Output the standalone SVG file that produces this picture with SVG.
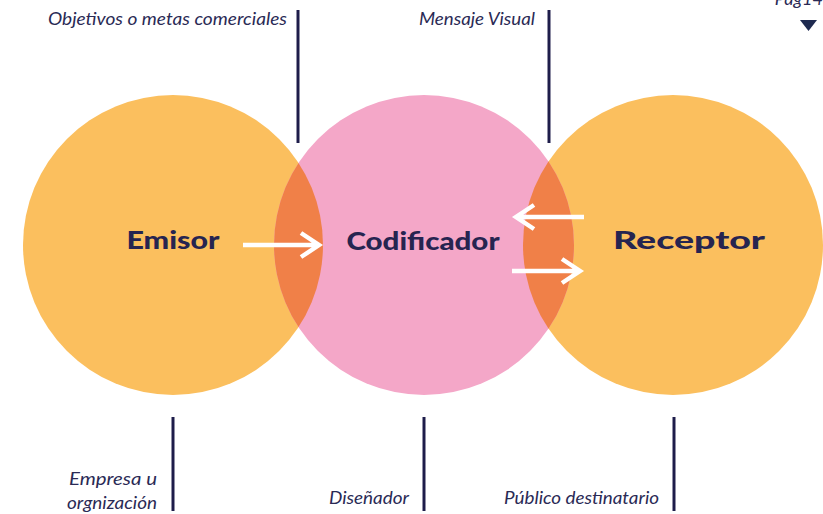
<svg xmlns="http://www.w3.org/2000/svg" width="823" height="514" viewBox="0 0 823 514">
<style>
.lbl{font-family:Lato,"Open Sans",sans-serif;font-style:italic;font-size:18px;fill:#2a2a55;text-anchor:end}
.node{font-family:Lato,"Open Sans",sans-serif;font-weight:900;font-size:25px;fill:#262450;text-anchor:middle}
.tick{stroke:#1e1d4a;stroke-width:3}
.arr{stroke:#fff;stroke-width:4.5;fill:none;stroke-linecap:butt}
</style>
<defs>
<clipPath id="c2"><circle cx="424" cy="245" r="150"/></clipPath>
</defs>
<rect width="823" height="514" fill="#fff"/>
<g id="emisor">
<circle cx="173" cy="245" r="150" fill="#fbbf5e"/>
<text class="node" x="173" y="249" textLength="93" lengthAdjust="spacingAndGlyphs">Emisor</text>
</g>
<g id="receptor">
<circle cx="673" cy="245" r="150" fill="#fbbf5e"/>
</g>
<g id="codificador">
<circle cx="424" cy="245" r="150" fill="#f4a7c8"/>
<g clip-path="url(#c2)">
<circle cx="173" cy="245" r="150" fill="#f08048"/>
<circle cx="673" cy="245" r="150" fill="#f08048"/>
</g>
<text class="node" x="423" y="250" textLength="153" lengthAdjust="spacingAndGlyphs">Codificador</text>
</g>
<text class="node" x="689" y="249" textLength="152" lengthAdjust="spacingAndGlyphs">Receptor</text>
<g id="connectors">
<path class="arr" d="M243 245H319M301 233L319 245L301 257"/>
<path class="arr" d="M584 217H516M534 205L516 217L534 229"/>
<path class="arr" d="M512 271H580M562 259L580 271L562 283"/>
<line class="tick" x1="298" y1="10" x2="298" y2="143"/>
<line class="tick" x1="549" y1="10" x2="549" y2="143"/>
<line class="tick" x1="173" y1="417" x2="173" y2="511"/>
<line class="tick" x1="424" y1="417" x2="424" y2="511"/>
<line class="tick" x1="674" y1="417" x2="674" y2="511"/>
</g>
<g id="labels">
<text class="lbl" x="287" y="25" textLength="239" lengthAdjust="spacingAndGlyphs">Objetivos o metas comerciales</text>
<text class="lbl" x="535" y="25" textLength="116" lengthAdjust="spacingAndGlyphs">Mensaje Visual</text>
<text class="lbl" x="157" y="485" textLength="88" lengthAdjust="spacingAndGlyphs">Empresa u</text>
<text class="lbl" x="157" y="509" textLength="90" lengthAdjust="spacingAndGlyphs">orgnización</text>
<text class="lbl" x="409" y="504" textLength="80" lengthAdjust="spacingAndGlyphs">Diseñador</text>
<text class="lbl" x="659" y="504" textLength="155" lengthAdjust="spacingAndGlyphs">Público destinatario</text>
<text class="lbl" x="823" y="5">Pag14</text>
</g>
<polygon points="800,20 817,20 808.5,31" fill="#1e2a50"/>
</svg>
